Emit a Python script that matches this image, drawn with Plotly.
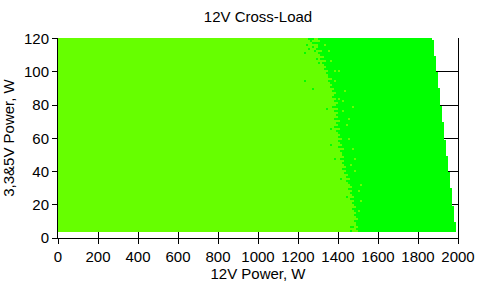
import numpy as np
import plotly.graph_objects as go

# ---- data ----
# row grid (3.3&5V power, W): 97 rows of 1.2 W starting at 3.8 W
row_start = 3.8
row_step = 1.2
n_rows = 97
col_step = 10  # 12V power cell width, W

# light-green / green boundary per row (bottom row first), W
boundary = [
    1500, 1490, 1500, 1490,
    1490, 1480, 1500, 1490, 1480,
    1490, 1480, 1470, 1490, 1480,
    1470, 1480, 1460, 1480, 1470,
    1460, 1470, 1450, 1470, 1460,
    1450, 1440, 1460, 1440, 1450,
    1430, 1440, 1420, 1440, 1430,
    1420, 1430, 1410, 1430, 1420,
    1420, 1410, 1430, 1400, 1420,
    1410, 1400, 1420, 1400, 1410,
    1400, 1390, 1410, 1380, 1400, 1390, 1410, 1380, 1400,
    1390, 1400, 1380, 1400, 1370, 1390, 1400, 1380, 1390, 1370,
    1380, 1390, 1370, 1380, 1360,
    1370, 1360, 1350, 1370, 1350,
    1350, 1340, 1350, 1330, 1340,
    1330, 1320, 1340, 1310, 1330,
    1310, 1300, 1320, 1290, 1300,
    1300, 1290, 1310, 1300,
]

# right limit of the tested region (12V max) by 3.3&5V band upper bound
band_top = [9.8, 19.4, 30.3, 39.3, 49.3, 59.4, 69.9, 79.4, 90.5, 99.8, 109.4, 118.4, 120.4]
band_max = [1990, 1980, 1970, 1960, 1950, 1940, 1930, 1920, 1910, 1900, 1890, 1880, 1870]

# isolated green cells inside the light-green area (12V W, 3.3&5V W)
green_spots = [(1250, 119.6), (1260, 119.6), (1270, 119.6), (1260, 118.4), (1270, 117.2),
               (1280, 117.2), (1240, 116), (1270, 114.8), (1250, 113.6), (1280, 112.4),
               (1230, 111), (1290, 108), (1300, 105), (1230, 94.6), (1270, 89.7),
               (1340, 78), (1360, 66), (1360, 55.9), (1380, 48), (1410, 36),
               (1440, 25), (1460, 4.8), (1470, 6.8), (1460, 6.8)]
# isolated light-green cells inside the green area
light_spots = [(1380, 100.8), (1400, 100.8), (1380, 94.6), (1400, 84), (1420, 82),
               (1470, 79), (1450, 72), (1440, 68), (1460, 44), (1480, 47),
               (1480, 40), (1510, 32), (1510, 22), (1500, 16), (1360, 106),
               (1350, 112), (1330, 116), (1430, 88), (1450, 60), (1470, 53),
               (1500, 28), (1420, 76)]

x_ticks = [0, 200, 400, 600, 800, 1000, 1200, 1400, 1600, 1800, 2000]
y_ticks = [0, 20, 40, 60, 80, 100, 120]

# ---- build the grid ----
x_edges = np.arange(0, 2000 + col_step, col_step)
y_edges = row_start + row_step * np.arange(n_rows + 1)
y_edges[-1] = band_top[-1]
x_cent = x_edges[:-1] + col_step / 2
y_cent = (y_edges[:-1] + y_edges[1:]) / 2

z = np.full((n_rows, len(x_cent)), np.nan)
for i, yc in enumerate(y_cent):
    xmax = band_max[next(k for k, t in enumerate(band_top) if yc <= t)]
    for j, xc in enumerate(x_cent):
        if xc < xmax:
            z[i, j] = 0 if xc < boundary[i] else 1

def cell(x, y):
    return min(int((y - row_start) // row_step), n_rows - 1), int(x // col_step)

for x, y in green_spots:
    i, j = cell(x, y)
    if 0 <= i < n_rows and not np.isnan(z[i, j]):
        z[i, j] = 1
for x, y in light_spots:
    i, j = cell(x, y)
    if 0 <= i < n_rows and not np.isnan(z[i, j]):
        z[i, j] = 0

font = dict(family="Arial, 'Liberation Sans', sans-serif", size=15, color="black")

fig = go.Figure(go.Heatmap(
    x=x_edges, y=y_edges, z=z,
    colorscale=[[0, "#66FF00"], [1, "#00FF00"]],
    zmin=0, zmax=1, showscale=False, hoverinfo="skip",
))

fig.update_layout(
    width=487, height=286,
    margin=dict(l=58, r=29, t=38, b=48),
    paper_bgcolor="white", plot_bgcolor="white",
    font=font,
    title=dict(text="12V Cross-Load", x=258 / 487, xanchor="center",
               y=1 - 17 / 286, yanchor="middle", font=font),
)
fig.update_xaxes(
    range=[0, 2000], tickvals=x_ticks, ticks="outside", ticklen=5, tickcolor="black",
    showline=True, linecolor="black", linewidth=1, automargin=False,
    showgrid=True, gridcolor="black", gridwidth=1, zeroline=False,
    title=dict(text="12V Power, W", standoff=2, font=font), tickfont=font,
)
fig.update_yaxes(
    range=[0, 120.4], tickvals=y_ticks, ticks="outside", ticklen=5, tickcolor="black",
    showline=True, linecolor="black", linewidth=1, mirror=True, automargin=False,
    showgrid=True, gridcolor="black", gridwidth=1, zeroline=False,
    title=dict(text="3,3&5V Power, W", standoff=6, font=font), tickfont=font,
)

fig.write_html("out.html")
